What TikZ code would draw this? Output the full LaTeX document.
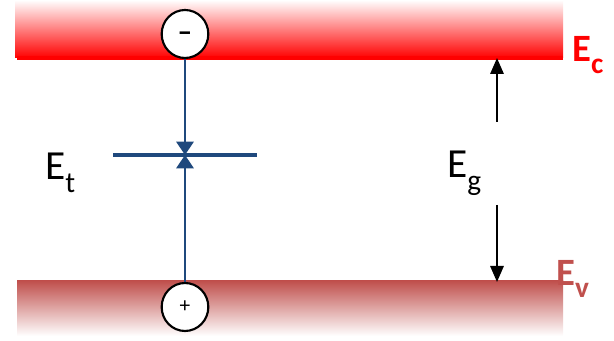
\documentclass[tikz,border=0pt]{standalone}
\usepackage{fontspec}
\setmainfont{Carlito}
\usetikzlibrary{arrows.meta,shapes.geometric}
\definecolor{bandred}{HTML}{FF0000}
\definecolor{bandrose}{HTML}{C0504D}
\definecolor{trapblue}{HTML}{1F497D}
\newcommand{\lvlsub}[1]{\raisebox{-0.3em}{\fontsize{22}{22}\selectfont #1}}
\tikzset{
  carrier/.style={ellipse,draw=black,line width=1.6pt,fill=white,minimum width=35pt,minimum height=36pt,inner sep=0pt,font=\fontsize{16}{16}\selectfont},
  capture/.style={-{Triangle[length=10pt,width=13pt]},draw=trapblue,line width=1.5pt},
  gaparrow/.style={-{Triangle[length=12pt,width=10pt]},draw=black,line width=1.5pt},
  levellabel/.style={font=\fontsize{31}{31}\selectfont,inner sep=0pt,anchor=base west},
  bandlabel/.style={font=\bfseries\fontsize{29}{29}\selectfont,inner sep=0pt,anchor=base west},
}
\begin{document}
\begin{tikzpicture}[x=0.75pt,y=-0.75pt]
  \useasboundingbox (0,0) rectangle (614,341);
  % bands
  \shade[top color=white,bottom color=bandred] (15,0) rectangle (563,58);
  \draw[bandred,line width=2.5pt] (17,58) -- (563,58);
  \shade[top color=bandrose,bottom color=white] (17,281) rectangle (563,336);
  \node[bandlabel,text=bandred] (ec) at (572,62) {E\lvlsub{c}};
  \node[bandlabel,text=bandrose] (ev) at (556,286) {E\lvlsub{v}};
  % trap level
  \coordinate (etl) at (113,155);
  \coordinate (etr) at (257,155);
  \coordinate (trap) at (185,155);
  \draw[trapblue,line width=3pt] (etl) -- (etr);
  \node[levellabel] (et) at (45,180) {E\lvlsub{t}};
  % carriers
  \node[carrier] (elec) at (185,34) {\fontsize{22}{22}\selectfont\raisebox{-0.24em}[0pt][0pt]{\textbf{\textendash}}};
  \node[carrier] (hole) at (185,307) {+};
  \draw[capture] (elec) -- (trap);
  \draw[capture] (hole) -- (trap);
  % gap
  \node[levellabel] (eg) at (447,178) {E\lvlsub{g}};
  \coordinate (gaptop) at (497,58);
  \coordinate (gapbot) at (497,282);
  \coordinate (eguptail) at (497,122);
  \coordinate (egdowntail) at (497,205);
  \draw[gaparrow] (eguptail) -- (gaptop);
  \draw[gaparrow] (egdowntail) -- (gapbot);
\end{tikzpicture}
\end{document}
